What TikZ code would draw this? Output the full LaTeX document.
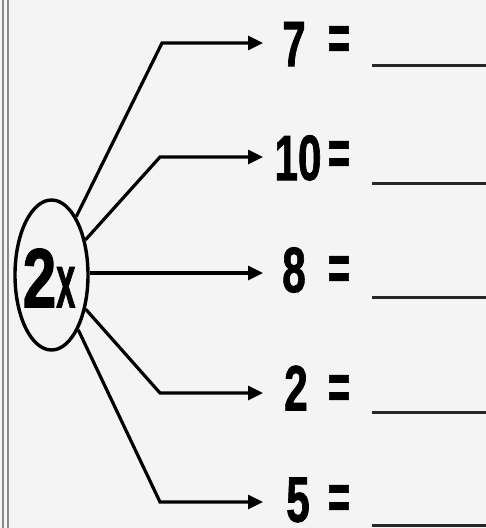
\documentclass[tikz,border=0pt]{standalone}
\usepackage{fontspec}
\usetikzlibrary{shapes.geometric,arrows.meta}
\newfontfamily\numfont{Liberation Sans}[UprightFont={* Bold},FakeBold=1.5]
\definecolor{bgc}{HTML}{F4F4F4}
\definecolor{framec}{HTML}{8A8A8A}
\tikzset{
  conn/.style={line width=3.2pt,line join=miter,-{Triangle[length=15pt,width=14pt]}},
  numtxt/.style={inner sep=0pt,font=\numfont},
  blank/.style={line width=3pt,black!85},
  framel/.style={framec,line width=2pt}
}
\newcommand{\dig}[1]{\scalebox{0.66}[1]{\fontsize{64}{64}\selectfont #1}}
\newcommand{\eqs}{\scalebox{0.6}[1]{\fontsize{64}{64}\selectfont =}}
\begin{document}
\begin{tikzpicture}[x=1pt,y=-1pt]
\useasboundingbox (0,0) rectangle (486,528);
\fill[bgc] (0,0) rectangle (486,528);
\draw[framel] (2.7,0) -- (2.7,528);
\draw[framel] (8,0) -- (8,528);
\node[ellipse,draw,line width=3.4pt,minimum width=73pt,minimum height=150pt,inner sep=0pt] (e) at (51.5,275) {};
\node[numtxt] (lbl) at (49,278) {\scalebox{0.72}[1]{\fontsize{84}{84}\selectfont 2}\scalebox{0.45}[1]{\fontsize{76}{76}\selectfont x}};
% corners and tips
\coordinate (c1) at (162,43);  \coordinate (t1) at (263,43);
\coordinate (c2) at (160,157); \coordinate (t2) at (263,157);
\coordinate (t3) at (263,273);
\coordinate (c4) at (160,393); \coordinate (t4) at (263,393);
\coordinate (c5) at (160,502); \coordinate (t5) at (263,502);
\draw[conn] (e.67) -- (c1) -- (t1);
\draw[conn] (e.46) -- (c2) -- (t2);
\draw[conn] (e.east |- t3) -- (t3);
\draw[conn] (e.-45) -- (c4) -- (t4);
\draw[conn] (e.-64) -- (c5) -- (t5);
% numbers
\node[numtxt] (n1) at (294,44) {\dig{7}};
\node[numtxt] (n2) at (298,158) {\dig{10}};
\node[numtxt] (n3) at (294,270) {\dig{8}};
\node[numtxt] (n4) at (296,388) {\dig{2}};
\node[numtxt] (n5) at (298,500) {\dig{5}};
% equals
\node[numtxt] (q1) at (339,43) {\eqs};
\node[numtxt] (q2) at (339,158) {\eqs};
\node[numtxt] (q3) at (339,273) {\eqs};
\node[numtxt] (q4) at (339,392) {\eqs};
\node[numtxt] (q5) at (339,502) {\eqs};
% blanks
\coordinate (b1s) at (372,65);  \coordinate (b1e) at (486,65);
\coordinate (b2s) at (372,183); \coordinate (b2e) at (486,183);
\coordinate (b3s) at (372,297); \coordinate (b3e) at (486,297);
\coordinate (b4s) at (372,412); \coordinate (b4e) at (486,412);
\coordinate (b5s) at (372,525); \coordinate (b5e) at (486,525);
\draw[blank] (b1s) -- (b1e);
\draw[blank] (b2s) -- (b2e);
\draw[blank] (b3s) -- (b3e);
\draw[blank] (b4s) -- (b4e);
\draw[blank] (b5s) -- (b5e);
\end{tikzpicture}
\end{document}
